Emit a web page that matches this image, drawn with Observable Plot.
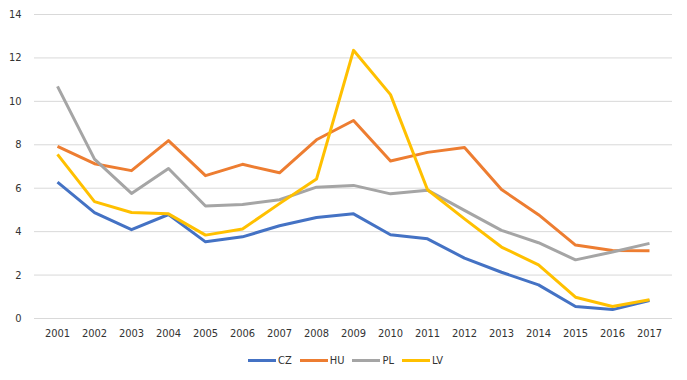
<!DOCTYPE html>
<html>
<head>
<meta charset="utf-8">
<script src="https://cdn.jsdelivr.net/npm/d3@7"></script>
<script src="https://cdn.jsdelivr.net/npm/@observablehq/plot@0.6"></script>
<style>
  html, body { margin: 0; padding: 0; background: #fff; }
  body { width: 687px; height: 380px; overflow: hidden; font-family: "DejaVu Sans Condensed", "Open Sans", sans-serif; }
  #legend { display: flex; justify-content: center; align-items: center; font-size: 11px; color: #333; margin-top: 9px; padding-left: 4px; }
  .item { display: flex; align-items: center; margin: 0 4px; }
  .sw { width: 28px; height: 3px; margin-right: 2px; }
</style>
</head>
<body>
<div id="chart"></div>
<div id="legend"></div>
<script>
const years = [2001,2002,2003,2004,2005,2006,2007,2008,2009,2010,2011,2012,2013,2014,2015,2016,2017];
const seriesNames = ["CZ","HU","PL","LV"];
const seriesColors = ["#4472C4","#ED7D31","#A5A5A5","#FFC000"];
const CZ = [6.28,4.88,4.09,4.79,3.53,3.76,4.27,4.65,4.82,3.86,3.67,2.78,2.13,1.55,0.55,0.41,0.83];
const HU = [7.93,7.13,6.81,8.19,6.58,7.10,6.71,8.23,9.12,7.25,7.65,7.88,5.94,4.78,3.38,3.13,3.12];
const PL = [10.69,7.34,5.76,6.91,5.18,5.25,5.47,6.05,6.13,5.74,5.91,4.98,4.06,3.49,2.70,3.06,3.46];
const LV = [7.56,5.38,4.88,4.82,3.84,4.12,5.29,6.42,12.35,10.31,5.93,4.59,3.29,2.47,0.98,0.55,0.86];
const yTicks = [0,2,4,6,8,10,12,14];

const valuesBySeries = {CZ, HU, PL, LV};
const data = [];
for (const s of seriesNames) {
  valuesBySeries[s].forEach((v, i) => data.push({year: String(years[i]), value: v, series: s}));
}

const chart = Plot.plot({
  width: 687,
  height: 345,
  marginTop: 14,
  marginBottom: 27,
  marginLeft: 34,
  marginRight: 15,
  style: {fontFamily: "'DejaVu Sans Condensed', 'Open Sans', sans-serif", fontSize: "11px", color: "#333", background: "#fff"},
  x: {type: "point", domain: years.map(String), padding: 0.5, label: null, tickSize: 0, tickPadding: 11},
  y: {domain: [0, 14], ticks: yTicks, label: null, tickSize: 0, tickPadding: 13},
  color: {domain: seriesNames, range: seriesColors},
  marks: [
    Plot.gridY(yTicks, {stroke: "#d9d9d9", strokeOpacity: 1, strokeWidth: 1}),
    Plot.line(data, {x: "year", y: "value", z: "series", stroke: "series", strokeWidth: 3, strokeLinejoin: "round", strokeLinecap: "butt", curve: "linear"})
  ]
});
document.getElementById("chart").appendChild(chart);

const legend = document.getElementById("legend");
seriesNames.forEach((s, i) => {
  const item = document.createElement("div");
  item.className = "item";
  const sw = document.createElement("div");
  sw.className = "sw";
  sw.style.background = seriesColors[i];
  const t = document.createElement("span");
  t.textContent = s;
  item.appendChild(sw);
  item.appendChild(t);
  legend.appendChild(item);
});
</script>
</body>
</html>
